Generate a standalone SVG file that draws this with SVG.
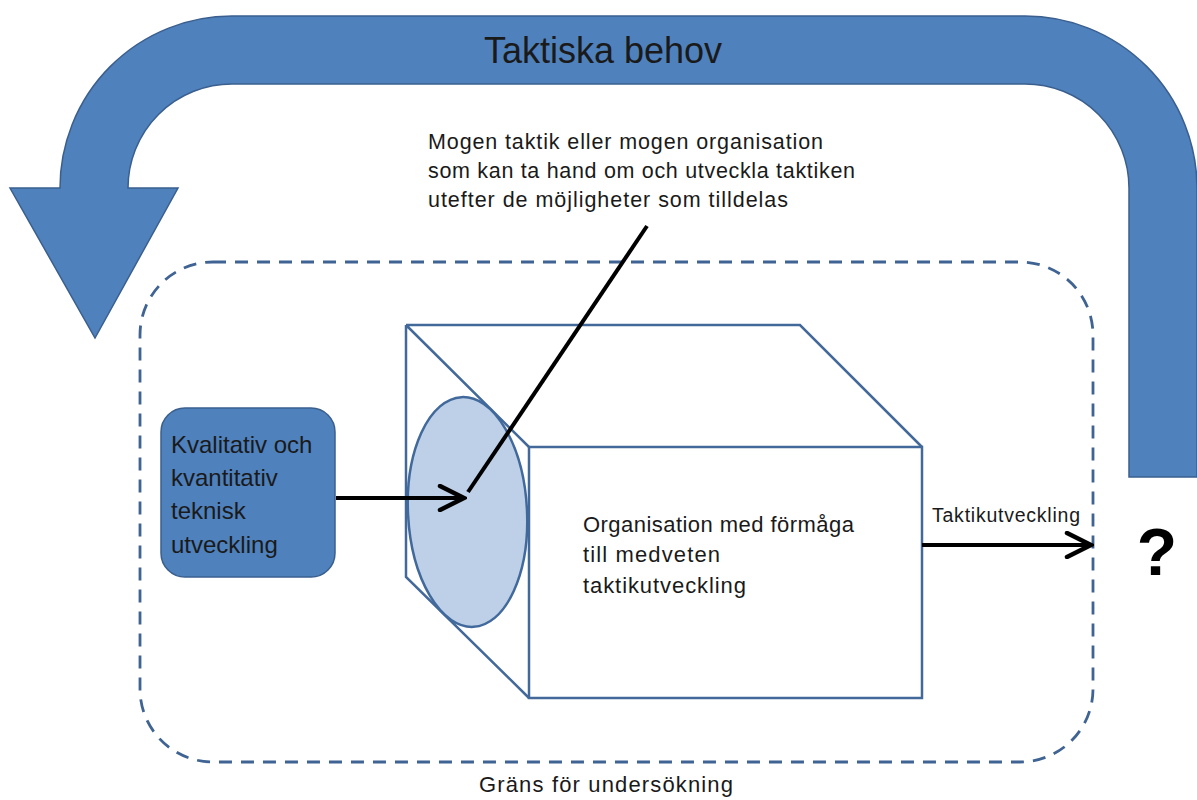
<svg xmlns="http://www.w3.org/2000/svg" width="1197" height="800" viewBox="0 0 1197 800">
<style>
  .txt { font-family: "Liberation Sans", Arial, sans-serif; fill: #1a1a1a; }
  .blue { fill: #4F81BD; stroke: #3A5F8E; stroke-width: 1.5; }
  .edge { fill: none; stroke: #43689A; stroke-width: 2.5; stroke-linejoin: miter; }
  .conn { stroke: #000; stroke-width: 4; fill: none; }
</style>
<defs>
  <marker id="open" viewBox="0 0 30 28" refX="27" refY="14" markerWidth="30" markerHeight="28" markerUnits="userSpaceOnUse" orient="auto">
    <path d="M3,2 L27,14 L3,26" fill="none" stroke="#000" stroke-width="4.5" stroke-linecap="round" stroke-linejoin="miter"/>
  </marker>
</defs>
<rect width="1197" height="800" fill="#fff"/>

<g id="feedback-arrow">
  <path class="blue" d="M 1129 477 L 1129 188 A 104 104 0 0 0 1025 84 L 232 84 A 104 104 0 0 0 128 188 L 178 188 L 95 338 L 10 188 L 60 188 A 172 172 0 0 1 232 16 L 1025 16 A 172 172 0 0 1 1197 188 L 1197 477 Z"/>
  <text class="txt" x="603" y="63" font-size="36" text-anchor="middle">Taktiska behov</text>
</g>

<g id="boundary">
  <rect x="140" y="262" width="953" height="500" rx="73" ry="73" fill="none" stroke="#3F6393" stroke-width="2.8" stroke-dasharray="13 9"/>
  <text class="txt" x="479" y="792" font-size="22" textLength="254" lengthAdjust="spacing">Gräns för undersökning</text>
</g>

<g id="tech-node">
  <rect class="blue" x="161" y="408" width="174" height="169" rx="24" ry="24"/>
  <text class="txt" x="171" y="453" font-size="24">Kvalitativ och</text>
  <text class="txt" x="171" y="486" font-size="24">kvantitativ</text>
  <text class="txt" x="171" y="519" font-size="24">teknisk</text>
  <text class="txt" x="171" y="553" font-size="24">utveckling</text>
</g>

<g id="organisation-box">
  <path class="edge" d="M 406 325 L 800 325 L 922 447 M 406 325 L 406 577 L 529 698 M 406 325 L 529 447"/>
  <ellipse cx="467.5" cy="512" rx="59.5" ry="115" fill="#BDD0E8" stroke="#41699B" stroke-width="2.5" transform="rotate(-3 467.5 512)"/>
  <rect class="edge" x="529" y="447" width="393" height="251" fill="#fff"/>
  <text class="txt" x="583" y="532" font-size="22" textLength="271" lengthAdjust="spacing">Organisation med förmåga</text>
  <text class="txt" x="583" y="562" font-size="22" textLength="137" lengthAdjust="spacing">till medveten</text>
  <text class="txt" x="583" y="593" font-size="22" textLength="163" lengthAdjust="spacing">taktikutveckling</text>
</g>

<g id="annotation">
  <text class="txt" x="428" y="149" font-size="21.5" textLength="395" lengthAdjust="spacing">Mogen taktik eller mogen organisation</text>
  <text class="txt" x="428" y="178" font-size="21.5" textLength="427" lengthAdjust="spacing">som kan ta hand om och utveckla taktiken</text>
  <text class="txt" x="428" y="207" font-size="21.5" textLength="360" lengthAdjust="spacing">utefter de möjligheter som tilldelas</text>
</g>

<g id="outcome">
  <text x="1157" y="575" font-family="Liberation Sans, Arial, sans-serif" font-weight="bold" font-size="66" text-anchor="middle" fill="#000">?</text>
</g>

<g id="connectors">
  <line class="conn" x1="336" y1="498" x2="464" y2="498" marker-end="url(#open)"/>
  <line class="conn" x1="922" y1="545" x2="1091" y2="545" marker-end="url(#open)"/>
  <line class="conn" x1="647" y1="226" x2="468" y2="492" stroke-width="3.5"/>
  <text class="txt" x="932" y="522" font-size="19.5" textLength="148" lengthAdjust="spacing">Taktikutveckling</text>
</g>
</svg>
